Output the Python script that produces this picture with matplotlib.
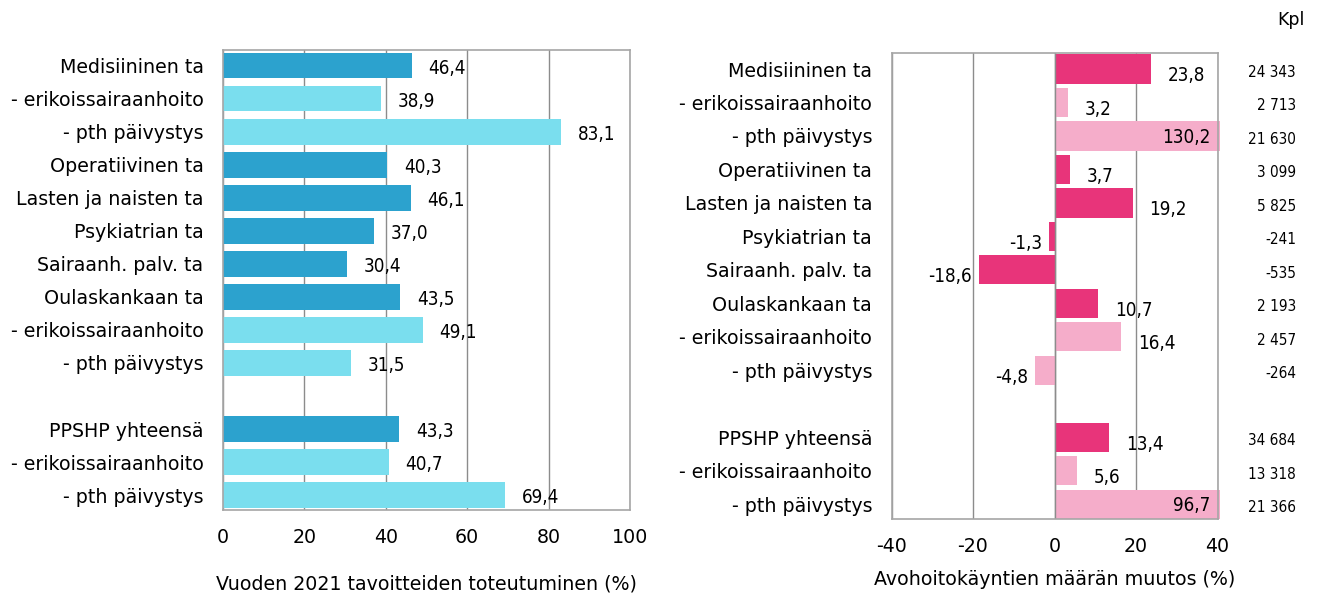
import numpy as np
import matplotlib.pyplot as plt
from matplotlib.transforms import blended_transform_factory

plt.rcParams['font.family'] = ['DejaVu Sans']

categories = ['Medisiininen ta', '- erikoissairaanhoito', '- pth päivystys',
              'Operatiivinen ta', 'Lasten ja naisten ta', 'Psykiatrian ta',
              'Sairaanh. palv. ta', 'Oulaskankaan ta', '- erikoissairaanhoito',
              '- pth päivystys', 'PPSHP yhteensä', '- erikoissairaanhoito',
              '- pth päivystys']
positions = [0, 1, 2, 3, 4, 5, 6, 7, 8, 9, 11, 12, 13]
is_sub = [False, True, True, False, False, False, False, False, True, True,
          False, True, True]

goal_pct = [46.4, 38.9, 83.1, 40.3, 46.1, 37.0, 30.4, 43.5, 49.1, 31.5,
            43.3, 40.7, 69.4]
change_pct = [23.8, 3.2, 130.2, 3.7, 19.2, -1.3, -18.6, 10.7, 16.4, -4.8,
              13.4, 5.6, 96.7]
change_kpl = ['24 343', '2 713', '21 630', '3 099', '5 825', '-241', '-535',
              '2 193', '2 457', '-264', '34 684', '13 318', '21 366']

blue_dark, blue_light = '#2CA2CE', '#7ADEEE'
pink_dark, pink_light = '#E8347A', '#F5ADCA'
grid_c = '#8c8c8c'
frame_c = '#a6a6a6'

def fmt(v):
    return f'{v:.1f}'.replace('.', ',')

fig = plt.figure(figsize=(13.17, 5.97), dpi=100)
ax1 = fig.add_axes([223 / 1317, 1 - 510 / 597, 407 / 1317, 460 / 597])
ax2 = fig.add_axes([891.5 / 1317, 1 - 519.3 / 597, 326 / 1317, 466 / 597])

fs = 13.7

def style(ax, xlim, ticks, xlabel, labelpad):
    ax.set_xlim(*xlim)
    ax.set_ylim(13.45, -0.47)
    ax.set_xticks(ticks)
    ax.set_xticklabels([str(t) for t in ticks], fontsize=fs)
    ax.set_yticks(positions)
    ax.set_yticklabels(categories, fontsize=fs)
    ax.tick_params(length=0, pad=14, axis='y')
    ax.tick_params(length=0, pad=13, axis='x')
    ax.grid(axis='x', color=grid_c, lw=1)
    ax.set_axisbelow(True)
    for s in ax.spines.values():
        s.set_color(frame_c)
        s.set_linewidth(1.2)
    ax.set_xlabel(xlabel, fontsize=fs, labelpad=labelpad)

# left panel
cols1 = [blue_light if s else blue_dark for s in is_sub]
ax1.barh(positions, goal_pct, height=0.78, color=cols1)
style(ax1, (0, 100), [0, 20, 40, 60, 80, 100],
      'Vuoden 2021 tavoitteiden toteutuminen (%)', 20)
for p, v in zip(positions, goal_pct):
    ax1.annotate(fmt(v), (v, p), xytext=(12, -2), textcoords='offset points',
                 ha='left', va='center', fontsize=13.5, fontstretch='condensed')

# right panel
cols2 = [pink_light if s else pink_dark for s in is_sub]
clipped = [min(v, 40.6) for v in change_pct]
ax2.barh(positions, clipped, height=0.87, color=cols2, clip_on=False)
style(ax2, (-40, 40), [-40, -20, 0, 20, 40],
      'Avohoitokäyntien määrän muutos (%)', 10)
ax2.axvline(0, color=grid_c, lw=1)
for p, v in zip(positions, change_pct):
    if v > 40:
        ax2.annotate(fmt(v), (40, p), xytext=(-5, -1), textcoords='offset points',
                     ha='right', va='center', fontsize=13.5, fontstretch='condensed')
    elif v >= 0:
        ax2.annotate(fmt(v), (v, p), xytext=(12, -5), textcoords='offset points',
                     ha='left', va='center', fontsize=13.5, fontstretch='condensed')
    else:
        ax2.annotate(fmt(v), (v, p), xytext=(-5, -5), textcoords='offset points',
                     ha='right', va='center', fontsize=13.5, fontstretch='condensed')

tr = blended_transform_factory(ax2.transAxes, ax2.transData)
x_col = (1296 - 891.5) / 326
for p, s in zip(positions, change_kpl):
    ax2.text(x_col, p + 0.1, s, transform=tr, ha='right', va='center',
             fontsize=11, fontstretch='condensed')

fig.text(1305 / 1317, 1 - 20 / 597, 'Kpl', ha='right', va='center', fontsize=12.5)

fig.savefig('out.png', dpi=100)
